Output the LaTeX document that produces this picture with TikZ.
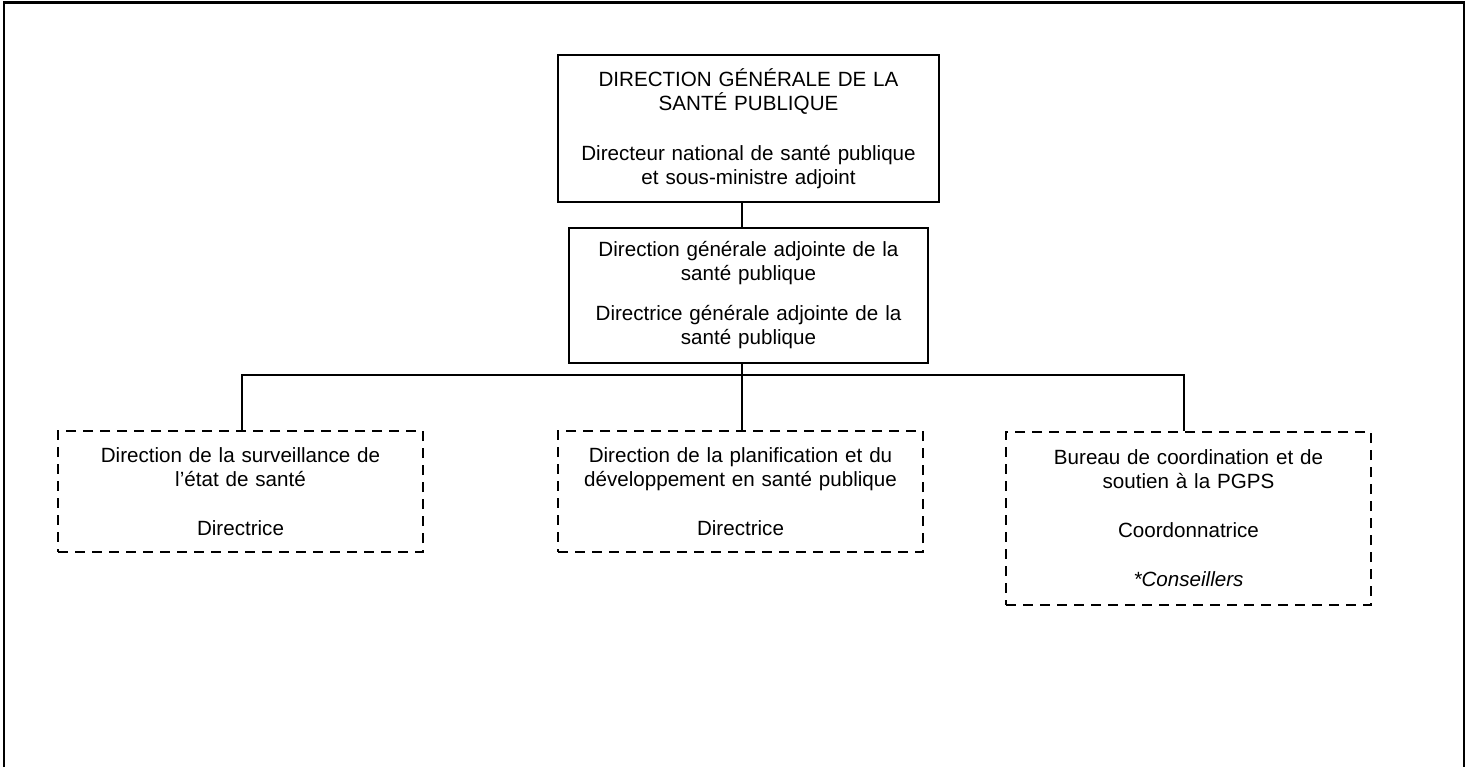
\documentclass[tikz,border=0pt]{standalone}
\usepackage{fontspec}
\setmainfont{Liberation Sans}
\usepackage{tikz}
\usetikzlibrary{calc,positioning}
\tikzset{
  unit/.style={draw,line width=1pt,align=center,inner sep=0pt,font=\fontsize{10.3}{12}\selectfont},
  subunit/.style={unit,dash pattern=on 5pt off 3.5pt,minimum width=182.5pt,text width=178pt},
  link/.style={line width=1pt}
}
\newcommand{\gap}[1]{\\[#1pt]}

\begin{document}
\begin{tikzpicture}[x=0.5pt,y=-0.5pt]
    \useasboundingbox (0,0) rectangle (1470,767);
    \draw[line width=1.2pt] (4,767) -- (4,2.5) -- (1464,2.5) -- (1464,767);
    \node[unit,minimum width=190.5pt,minimum height=73.5pt,text width=185pt] (dg) at (748.5,128.5)
      {DIRECTION G\'EN\'ERALE DE LA\\SANT\'E PUBLIQUE\gap{13}Directeur national de sant\'e publique\\et sous-ministre adjoint};
    \node[unit,minimum width=179.5pt,minimum height=67.5pt,text width=175pt] (dga) at (748.5,295.5)
      {Direction g\'en\'erale adjointe de la\\sant\'e publique\gap{8}Directrice g\'en\'erale adjointe de la\\sant\'e publique};
    \node[subunit,minimum height=60.5pt] (dse) at (240.5,491.5)
      {Direction de la surveillance de\\l'\'etat de sant\'e\gap{12.5}Directrice};
    \node[subunit,minimum height=60.5pt] (dpd) at (740.5,491.5)
      {Direction de la planification et du\\d\'eveloppement en sant\'e publique\gap{12.5}Directrice};
    \node[subunit,minimum height=86.5pt] (bcs) at (1188.5,518.5)
      {Bureau de coordination et de\\soutien \`a la PGPS\gap{12.5}Coordonnatrice\gap{12.5}\textit{*Conseillers}};
    \coordinate (hub) at (742,375);
    \coordinate (left) at (242,375);
    \coordinate (right) at (1184,375);
    \draw[link] (dg.south -| hub) -- (dga.north -| hub);
    \draw[link] (dga.south -| hub) -- (hub) -- (dpd.north -| hub);
    \draw[link] (dse.north -| left) -- (left) -- (right) -- (bcs.north -| right);
\end{tikzpicture}
\end{document}
